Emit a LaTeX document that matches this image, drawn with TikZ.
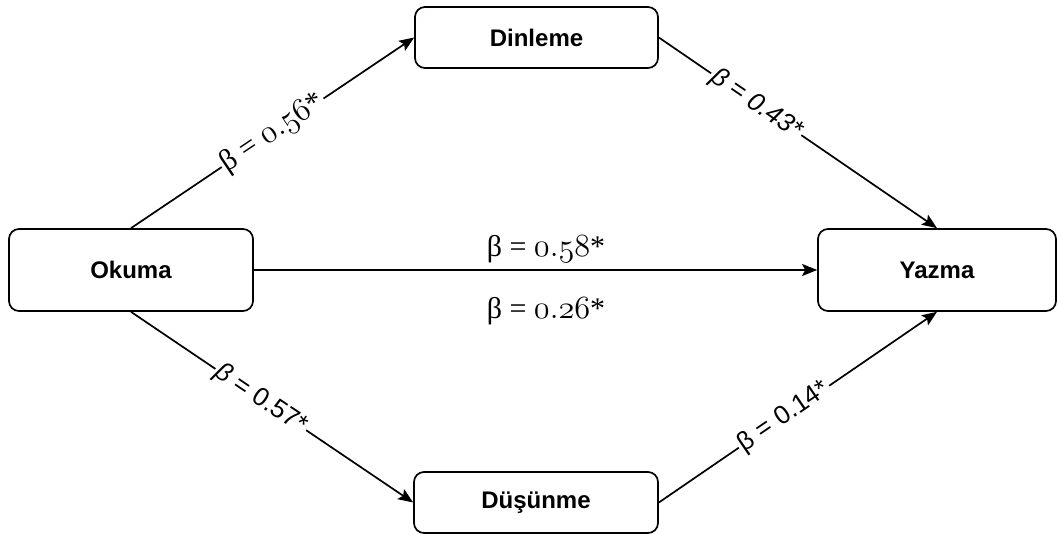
\documentclass[tikz,border=0pt]{standalone}
\usepackage{fontspec}
\setmainfont{Liberation Serif}
\setsansfont{Liberation Sans}
\usetikzlibrary{arrows.meta}
\newcommand{\osn}[1]{\scalebox{1.3}{$\mathnormal{#1}$}}
\tikzset{
  box/.style={draw, line width=1.7pt, rounded corners=10pt, fill=white,
    font=\sffamily\bfseries\fontsize{24}{28}\selectfont, inner sep=0pt},
  conn/.style={line width=1.7pt, -{Stealth[length=15pt,width=12pt,inset=3pt]}},
  seriflbl/.style={fill=white, inner sep=2pt, font=\rmfamily\fontsize{30}{34}\selectfont},
  sanslbl/.style={fill=white, inner sep=2pt, font=\sffamily\fontsize{26}{32}\selectfont},
}
\begin{document}
\begin{tikzpicture}[x=1pt,y=-1pt]
\useasboundingbox (0,0) rectangle (1058,535);
\node[box, minimum width=243pt, minimum height=61pt] (din) at (536.5,37.5) {Dinleme};
\node[box, minimum width=244pt, minimum height=82pt] (oku) at (131,270) {Okuma};
\node[box, minimum width=238pt, minimum height=82pt] (yaz) at (937,270) {Yazma};
\node[box, minimum width=244pt, minimum height=61pt] (dus) at (536,502.5) {Düşünme};

\draw[conn] (oku.north) -- node[seriflbl, sloped, pos=0.5] (l1) {β = \osn{0.56}*} (din.west);
\draw[conn] (din.east) -- node[sanslbl, sloped, pos=0.35, font=\sffamily\itshape\fontsize{26}{32}\selectfont] (l2) {β = 0.43*} (yaz.north);
\draw[conn] (oku.east) -- (yaz.west);
\draw[conn] (oku.south) -- node[sanslbl, sloped, pos=0.46] (l3) {\textit{β} = 0.57*} (dus.west);
\draw[conn] (dus.east) -- node[sanslbl, sloped, pos=0.45] (l4) {β = 0.14*} (yaz.south);
\node[seriflbl] (l5) at (546,249) {β = \osn{0.58}*};
\node[seriflbl] (l6) at (546,311) {β = \osn{0.26}*};
\end{tikzpicture}
\end{document}
